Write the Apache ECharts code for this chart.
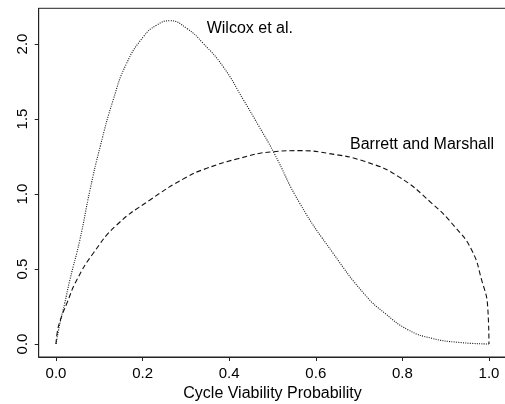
<!DOCTYPE html>
<html><head><meta charset="utf-8">
<script src="https://cdn.jsdelivr.net/npm/echarts@6/dist/echarts.min.js"></script>
<style>html,body{margin:0;padding:0;background:#fff}#c{width:505px;height:404px}</style>
</head><body><div id="c"></div>
<script>
// Data
const wilcoxX = [0, 0.01, 0.02, 0.032, 0.055, 0.0785, 0.102, 0.132, 0.163, 0.202, 0.233, 0.263, 0.302, 0.34, 0.386, 0.433, 0.467, 0.502, 0.563, 0.64, 0.714, 0.76, 0.814, 0.868, 0.929, 1.0];
const wilcoxY = [0, 0.15, 0.27, 0.427, 0.693, 1.027, 1.316, 1.627, 1.871, 2.049, 2.127, 2.155, 2.104, 2.004, 1.849, 1.627, 1.46, 1.282, 0.938, 0.605, 0.327, 0.204, 0.093, 0.038, 0.011, 0.0];
const barrettX = [0, 0.003, 0.01, 0.025, 0.048, 0.086, 0.14, 0.217, 0.3, 0.348, 0.42, 0.502, 0.563, 0.63, 0.714, 0.791, 0.868, 0.921, 0.96, 0.983, 0.997, 1.0];
const barrettY = [0, 0.08, 0.16, 0.271, 0.427, 0.605, 0.793, 0.96, 1.11, 1.171, 1.235, 1.282, 1.289, 1.27, 1.216, 1.116, 0.938, 0.782, 0.627, 0.427, 0.249, 0];
const xTicks = [0, 0.2, 0.4, 0.6, 0.8, 1.0];
const yTicks = [0, 0.5, 1.0, 1.5, 2.0];
const seriesNames = ['Wilcox et al.', 'Barrett and Marshall'];
const xAxisTitle = 'Cycle Viability Probability';
// label anchors (data coordinates)
const wilcoxLabelAt = [0.348, 2.103];
const barrettLabelAt = [0.679, 1.327];

const zip = (xs, ys) => xs.map((x, i) => [x, ys[i]]);
const FONT = 'Liberation Sans, Arial, Helvetica, sans-serif';

const chart = echarts.init(document.getElementById('c'), null, {renderer: 'canvas'});
chart.setOption({
  animation: false,
  backgroundColor: '#fff',
  grid: {left: 38.7, right: -1.3, top: 8.3, bottom: 47, show: true, borderColor: '#222', borderWidth: 1, containLabel: false, outerBoundsMode: 'none'},
  xAxis: {
    type: 'value', min: -0.04, max: 1.04,
    name: xAxisTitle, nameLocation: 'middle', nameGap: 22,
    nameTextStyle: {fontFamily: FONT, fontSize: 16, color: '#000'},
    axisLine: {show: true, onZero: false, lineStyle: {color: '#222', width: 1}},
    axisTick: {show: true, length: 4, inside: false, customValues: xTicks, lineStyle: {color: '#222'}},
    axisLabel: {show: true, customValues: xTicks, margin: 9, fontFamily: FONT, fontSize: 15, color: '#000', formatter: v => v.toFixed(1)},
    splitLine: {show: false}
  },
  yAxis: {
    type: 'value', min: -0.0867, max: 2.238,
    axisLine: {show: true, onZero: false, lineStyle: {color: '#222', width: 1}},
    axisTick: {show: true, length: 4, inside: false, customValues: yTicks, lineStyle: {color: '#222'}},
    axisLabel: {show: true, customValues: yTicks, rotate: 90, margin: 8, fontFamily: FONT, fontSize: 15, color: '#000', formatter: v => v.toFixed(1)},
    splitLine: {show: false}
  },
  series: [
    {
      name: seriesNames[0], type: 'line', data: zip(wilcoxX, wilcoxY),
      showSymbol: false, symbol: 'none', smooth: 0.5,
      lineStyle: {color: '#111', width: 1.1, type: [1, 1.3]},
      markPoint: {symbol: 'circle', symbolSize: 0, silent: true,
        data: [{coord: wilcoxLabelAt}],
        label: {show: true, position: 'right', distance: 0, formatter: seriesNames[0], fontFamily: FONT, fontSize: 16, color: '#000'}}
    },
    {
      name: seriesNames[1], type: 'line', data: zip(barrettX, barrettY),
      showSymbol: false, symbol: 'none', smooth: 0.5,
      lineStyle: {color: '#111', width: 1.1, type: [5, 3]},
      markPoint: {symbol: 'circle', symbolSize: 0, silent: true,
        data: [{coord: barrettLabelAt}],
        label: {show: true, position: 'right', distance: 0, formatter: seriesNames[1], fontFamily: FONT, fontSize: 16, color: '#000'}}
    }
  ]
});
</script>
</body></html>
